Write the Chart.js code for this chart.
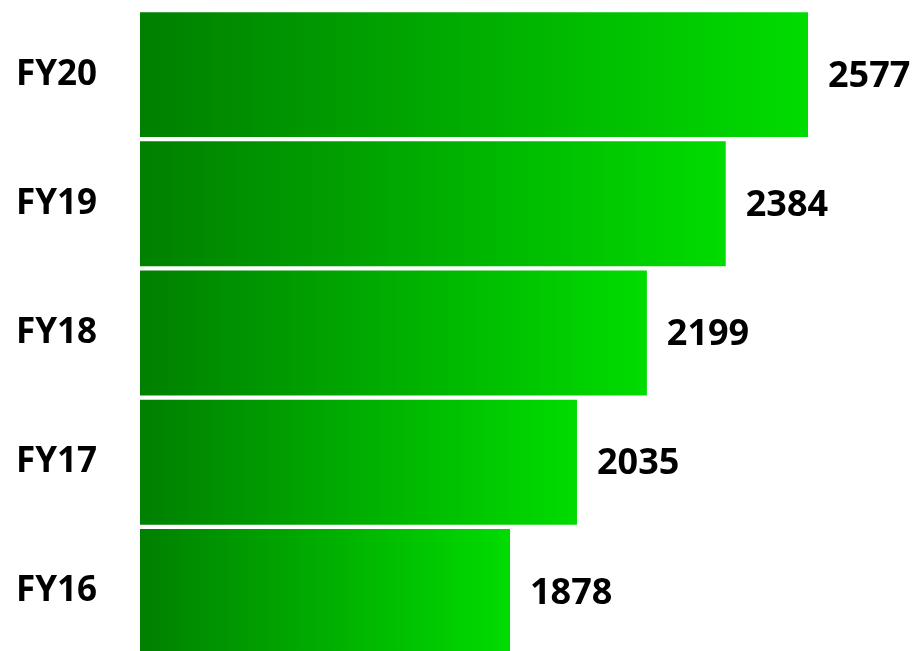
<!DOCTYPE html>
<html>
<head>
<meta charset="utf-8">
<script src="https://cdn.jsdelivr.net/npm/chart.js@4/dist/chart.umd.min.js"></script>
<style>
  html, body { margin: 0; padding: 0; background: #fff; overflow: hidden; }
  #myChart { display: block; }
</style>
</head>
<body>
<canvas id="myChart" width="918" height="656"></canvas>
<script>
// data
years = ['FY16', 'FY17', 'FY18', 'FY19', 'FY20'];
sales = [1878, 2035, 2199, 2384, 2577];

var FONT = "'Open Sans', 'Liberation Sans', sans-serif";

// each bar gets its own dark -> bright green gradient
function barGradient(c) {
  var chart = c.chart;
  var area = chart.chartArea;
  var xs = chart.scales.x;
  if (!area || !xs || c.raw == null) return '#00b000';
  var x0 = area.left;
  var x1 = xs.getPixelForValue(c.raw);
  var g = chart.ctx.createLinearGradient(x0, 0, x1, 0);
  g.addColorStop(0, '#008000');
  g.addColorStop(1, '#00dc00');
  return g;
}

// numbers to the right of the bars
var valueLabels = {
  id: 'valueLabels',
  afterDatasetsDraw: function(chart) {
    var ctx = chart.ctx;
    var meta = chart.getDatasetMeta(0);
    ctx.save();
    ctx.font = 'bold 36px ' + FONT;
    ctx.fillStyle = '#000';
    ctx.textAlign = 'left';
    ctx.textBaseline = 'middle';
    meta.data.forEach(function(bar, i) {
      ctx.fillText(String(sales[i]), bar.x + 20, bar.y + 2);
    });
    ctx.restore();
  }
};

var ctx = document.getElementById('myChart').getContext('2d');
var myChart = new Chart(ctx, {
  type: 'bar',
  data: {
    labels: years,
    datasets: [{
      data: sales,
      backgroundColor: barGradient,
      borderWidth: 0,
      barPercentage: 0.967,
      categoryPercentage: 1
    }]
  },
  options: {
    indexAxis: 'y',
    responsive: false,
    animation: false,
    layout: { padding: { top: 10, right: 0, bottom: 0, left: 0 } },
    plugins: {
      legend: { display: false },
      tooltip: { enabled: false }
    },
    scales: {
      x: {
        display: false,
        min: 1010,
        max: 2835
      },
      y: {
        reverse: true,
        grid: { display: false, drawTicks: false },
        border: { display: false },
        ticks: {
          padding: 43,
          color: '#000',
          font: { family: FONT, size: 35, weight: 'bold' }
        },
        afterFit: function(scale) {
          scale.width = 140;
          scale.paddingTop = 0;
          scale.paddingBottom = 0;
        }
      }
    }
  },
  plugins: [valueLabels]
});
</script>
</body>
</html>
